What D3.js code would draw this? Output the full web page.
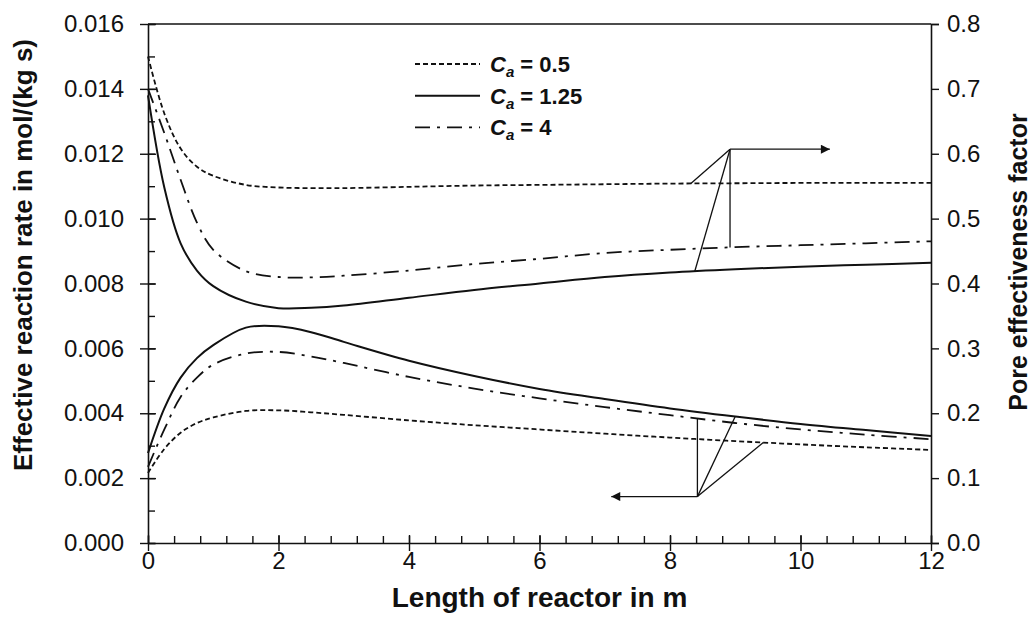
<!DOCTYPE html>
<html>
<head>
<meta charset="utf-8">
<script src="https://cdn.jsdelivr.net/npm/d3@7.9.0/dist/d3.min.js"></script>
<style>
  body { margin: 0; background: #fff; }
  svg { display: block; font-family: Arial, 'Liberation Sans', sans-serif; }
  .tick-label { font-size: 24px; fill: #111; }
  .axis-title { font-size: 26px; font-weight: bold; fill: #111; }
  .legend-text { font-size: 22px; font-weight: bold; fill: #111; }
</style>
</head>
<body>
<svg id="chart" width="1035" height="629"></svg>
<script>
// reactor length (m), shared by every series
const lengths = [0, 0.25, 0.5, 0.75, 1, 1.5, 2, 2.5, 3, 4, 5, 6, 7, 8, 9, 10, 11, 12];

// pore effectiveness factor (right axis)
const etaCa05 = [0.75, 0.662, 0.608, 0.58, 0.566, 0.552, 0.548, 0.547, 0.547, 0.549, 0.551, 0.552, 0.553, 0.554, 0.5545, 0.555, 0.555, 0.555];
const etaCa125 = [0.69, 0.548, 0.462, 0.42, 0.396, 0.372, 0.362, 0.3625, 0.366, 0.378, 0.39, 0.4, 0.41, 0.417, 0.422, 0.426, 0.429, 0.432];
const etaCa4 = [0.70, 0.632, 0.56, 0.494, 0.452, 0.419, 0.41, 0.4095, 0.412, 0.42, 0.43, 0.438, 0.447, 0.452, 0.456, 0.459, 0.462, 0.465];

// effective reaction rate in mol/(kg s) (left axis)
const rateCa05 = [0.00216, 0.0029, 0.0034, 0.0037, 0.00387, 0.00407, 0.00409, 0.00403, 0.00395, 0.00378, 0.00363, 0.0035, 0.00337, 0.00325, 0.00314, 0.00304, 0.00295, 0.00287];
const rateCa125 = [0.00277, 0.00415, 0.0051, 0.0057, 0.0061, 0.00664, 0.00668, 0.0065, 0.0062, 0.00562, 0.00515, 0.00475, 0.00444, 0.00415, 0.0039, 0.00367, 0.00348, 0.0033];
const rateCa4 = [0.00235, 0.0035, 0.0045, 0.0051, 0.0055, 0.00584, 0.00589, 0.00575, 0.00555, 0.00512, 0.00476, 0.00446, 0.00419, 0.00394, 0.0037, 0.0035, 0.00334, 0.0032];

const legendLabels = ['0.5', '1.25', '4'];
const xTicks = [0, 2, 4, 6, 8, 10, 12];
const leftTicks = [0, 0.002, 0.004, 0.006, 0.008, 0.01, 0.012, 0.014, 0.016];
const rightTicks = [0, 0.1, 0.2, 0.3, 0.4, 0.5, 0.6, 0.7, 0.8];

// annotation pointers: apex [length, value], arrow end length, target lengths on each curve
const etaPointer = { apex: [8.92, 0.607], arrowTo: 10.45, targets: [8.32, 8.38, 8.92] };
const ratePointer = { apex: [8.42, 0.00143], arrowTo: 7.1, targets: [9.43, 9.0, 8.42] };

const dashStyles = ['5,3', null, '15,7,3,7'];

const plotLeft = 148, plotRight = 931, plotTop = 24, plotBottom = 543;

const svg = d3.select('#chart');

const x = d3.scaleLinear().domain([0, 12]).range([plotLeft, plotRight]);
const yL = d3.scaleLinear().domain([0, 0.016]).range([plotBottom, plotTop]);
const yR = d3.scaleLinear().domain([0, 0.8]).range([plotBottom, plotTop]);

// arrow head
svg.append('defs').append('marker')
  .attr('id', 'head')
  .attr('viewBox', '0 0 10 10')
  .attr('refX', 10).attr('refY', 5)
  .attr('markerWidth', 16).attr('markerHeight', 9)
  .attr('markerUnits', 'userSpaceOnUse')
  .attr('orient', 'auto')
  .append('path').attr('d', 'M0,0L10,5L0,10Z').attr('fill', '#111');

// top frame line
svg.append('line').attr('x1', plotLeft).attr('x2', plotRight).attr('y1', plotTop).attr('y2', plotTop)
  .attr('stroke', '#111').attr('stroke-width', 1.6);

// bottom axis
const xAxis = svg.append('g').attr('transform', `translate(0,${plotBottom})`);
xAxis.call(d3.axisBottom(x).tickValues(d3.range(0, 12.001, 0.4)).tickSize(0).tickFormat(''));
xAxis.select('.domain').attr('stroke', '#111').attr('stroke-width', 1.6);
xAxis.selectAll('.tick line').remove();
xAxis.selectAll('.tick').append('line')
  .attr('y1', -7).attr('y2', 0).attr('stroke', '#111').attr('stroke-width', 1.4);
const xMajor = svg.append('g').attr('transform', `translate(0,${plotBottom})`)
  .call(d3.axisBottom(x).tickValues(xTicks).tickSize(8).tickPadding(1).tickFormat(d3.format('d')));
xMajor.select('.domain').remove();
xMajor.selectAll('.tick line').attr('y1', -8).attr('stroke', '#111').attr('stroke-width', 1.4);
xMajor.selectAll('.tick text').attr('class', 'tick-label').attr('font-size', null).attr('font-family', null);

// left axis
const yAxis = svg.append('g').attr('transform', `translate(${plotLeft},0)`);
yAxis.call(d3.axisLeft(yL).tickValues(d3.range(0, 0.01601, 0.001)).tickSize(0).tickFormat(''));
yAxis.select('.domain').attr('stroke', '#111').attr('stroke-width', 1.6);
yAxis.selectAll('.tick line').remove();
yAxis.selectAll('.tick').append('line')
  .attr('x1', 0).attr('x2', 7).attr('stroke', '#111').attr('stroke-width', 1.4);
const yMajor = svg.append('g').attr('transform', `translate(${plotLeft},0)`)
  .call(d3.axisLeft(yL).tickValues(leftTicks).tickSize(8).tickPadding(16).tickFormat(d3.format('.3f')));
yMajor.select('.domain').remove();
yMajor.selectAll('.tick line').attr('x2', -8).attr('x1', 8).attr('stroke', '#111').attr('stroke-width', 1.4);
yMajor.selectAll('.tick text').attr('class', 'tick-label').attr('font-size', null).attr('font-family', null);

// right axis
const yRAxis = svg.append('g').attr('transform', `translate(${plotRight},0)`)
  .call(d3.axisRight(yR).tickValues(rightTicks).tickSize(8).tickPadding(8).tickFormat(d3.format('.1f')));
yRAxis.select('.domain').attr('stroke', '#111').attr('stroke-width', 1.6);
yRAxis.selectAll('.tick line').attr('stroke', '#111').attr('stroke-width', 1.4);
yRAxis.selectAll('.tick text').attr('class', 'tick-label').attr('font-size', null).attr('font-family', null);

// curves
const etaLine = d3.line().x((d) => x(d[0])).y((d) => yR(d[1])).curve(d3.curveCatmullRom.alpha(0.5));
const rateLine = d3.line().x((d) => x(d[0])).y((d) => yL(d[1])).curve(d3.curveCatmullRom.alpha(0.5));

const etaSeries = [etaCa05, etaCa125, etaCa4];
const rateSeries = [rateCa05, rateCa125, rateCa4];

const curves = svg.append('g').attr('fill', 'none').attr('stroke', '#111');
etaSeries.forEach((values, i) => {
  curves.append('path')
    .attr('d', etaLine(lengths.map((l, j) => [l, values[j]])))
    .attr('stroke-width', i === 1 ? 2 : 1.8)
    .attr('stroke-dasharray', dashStyles[i]);
});
rateSeries.forEach((values, i) => {
  curves.append('path')
    .attr('d', rateLine(lengths.map((l, j) => [l, values[j]])))
    .attr('stroke-width', i === 1 ? 2 : 1.8)
    .attr('stroke-dasharray', dashStyles[i]);
});

// pointers from curves to their axis
function valueAt(values, l) {
  const i = Math.min(d3.bisectRight(lengths, l) - 1, lengths.length - 2);
  const t = (l - lengths[i]) / (lengths[i + 1] - lengths[i]);
  return values[i] + t * (values[i + 1] - values[i]);
}

function drawPointer(pointer, series, yScale) {
  const g = svg.append('g').attr('stroke', '#111').attr('stroke-width', 1.3).attr('fill', 'none');
  const ax = x(pointer.apex[0]);
  const ay = yScale(pointer.apex[1]);
  pointer.targets.forEach((l, i) => {
    g.append('line').attr('x1', ax).attr('y1', ay)
      .attr('x2', x(l)).attr('y2', yScale(valueAt(series[i], l)));
  });
  g.append('line').attr('x1', ax).attr('y1', ay)
    .attr('x2', x(pointer.arrowTo)).attr('y2', ay)
    .attr('marker-end', 'url(#head)');
}
drawPointer(etaPointer, etaSeries, yR);
drawPointer(ratePointer, rateSeries, yL);

// legend
const legend = svg.append('g');
legendLabels.forEach((label, i) => {
  const ly = 64 + i * 31.7;
  legend.append('line').attr('x1', 415).attr('x2', 480).attr('y1', ly).attr('y2', ly)
    .attr('stroke', '#111').attr('stroke-width', i === 1 ? 2 : 1.8)
    .attr('stroke-dasharray', dashStyles[i]);
  const t = legend.append('text').attr('class', 'legend-text').attr('x', 490).attr('y', ly + 8);
  t.append('tspan').attr('font-style', 'italic').text('C');
  t.append('tspan').attr('font-style', 'italic').attr('font-size', 15).attr('dy', 5).text('a');
  t.append('tspan').attr('dy', -5).text(` = ${label}`);
});

// titles
svg.append('text').attr('class', 'axis-title').attr('text-anchor', 'middle').style('font-size', '28px')
  .attr('x', (plotLeft + plotRight) / 2).attr('y', 607).text('Length of reactor in m');
svg.append('text').attr('class', 'axis-title').attr('text-anchor', 'middle')
  .attr('transform', 'translate(32,255) rotate(-90)').text('Effective reaction rate in mol/(kg s)');
svg.append('text').attr('class', 'axis-title').attr('text-anchor', 'middle').style('font-size', '25px')
  .attr('transform', 'translate(1027,262) rotate(-90)').text('Pore effectiveness factor');
</script>
</body>
</html>
